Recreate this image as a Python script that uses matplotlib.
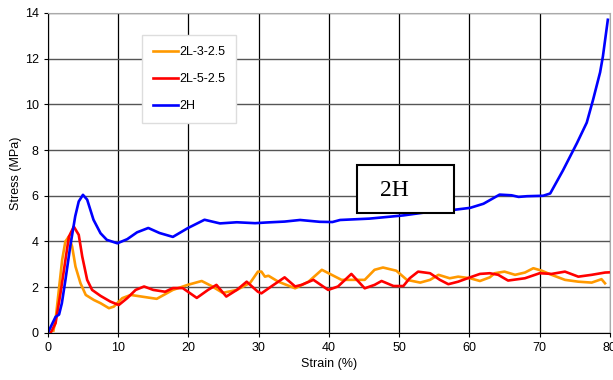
import matplotlib.pyplot as plt
from matplotlib.patches import Rectangle

plt.rcParams["font.family"] = ["Liberation Sans", "DejaVu Sans"]

# strain (%) / stress (MPa)
x_2h = [0, 1.1, 1.6, 2.0, 2.5, 3.2, 3.9, 4.4, 5.0, 5.6, 6.5, 7.5, 8.4, 9.9,
        11.3, 12.7, 14.3, 15.9, 17.8, 19.9, 22.3, 24.5, 26.9, 29.5, 31.1,
        33.7, 35.9, 38.7, 40.5, 41.6, 45.8, 50.6, 54.4, 57.7, 60.1, 62.0,
        64.3, 66.0, 67.0, 68.2, 70.5, 71.5, 73.3, 75.3, 76.7, 77.6, 78.6,
        79.0, 79.7]
y_2h = [0, 0.7, 0.8, 1.3, 2.3, 3.8, 5.1, 5.75, 6.04, 5.83, 4.95, 4.36, 4.07,
        3.92, 4.1, 4.4, 4.59, 4.37, 4.2, 4.58, 4.95, 4.79, 4.84, 4.8, 4.83,
        4.87, 4.94, 4.86, 4.85, 4.94, 5.0, 5.14, 5.3, 5.38, 5.47, 5.65, 6.05,
        6.02, 5.95, 5.98, 6.0, 6.1, 7.1, 8.3, 9.2, 10.2, 11.4, 12.1, 13.7]

x_l3 = [0.8, 1.1, 1.57, 2.04, 2.5, 3.0, 3.46, 3.94, 4.65, 5.4, 6.55, 7.5, 8.7,
        9.4, 10.6, 11.8, 13.1, 15.5, 17.8, 19.9, 21.9, 23.3, 24.9, 26.9, 28.8,
        29.9, 30.4, 30.9, 31.4, 32.8, 35.2, 37.1, 39.0, 40.4, 41.8, 43.7,
        45.1, 46.5, 47.7, 49.6, 51.1, 53.0, 54.4, 55.6, 57.2, 58.4, 60.1,
        61.5, 62.9, 63.6, 65.0, 66.5, 67.9, 69.1, 70.3, 71.7, 73.6, 75.5,
        77.4, 78.8, 79.3]
y_l3 = [0.1, 0.57, 1.88, 3.19, 4.0, 4.22, 3.78, 2.9, 2.17, 1.66, 1.44, 1.3,
        1.08, 1.15, 1.52, 1.66, 1.6, 1.49, 1.88, 2.1, 2.27, 2.05, 1.75, 1.88,
        2.19, 2.68, 2.68, 2.46, 2.5, 2.24, 1.95, 2.24, 2.76, 2.54, 2.32, 2.32,
        2.32, 2.76, 2.86, 2.72, 2.32, 2.2, 2.32, 2.54, 2.39, 2.46, 2.39, 2.27,
        2.43, 2.61, 2.68, 2.54, 2.64, 2.83, 2.72, 2.54, 2.32, 2.24, 2.2, 2.35,
        2.17]

x_l5 = [0.4, 1.1, 1.8, 2.3, 3.0, 3.7, 4.4, 4.9, 5.6, 6.3, 7.5, 8.9, 10.1,
        11.3, 12.5, 13.7, 15.0, 16.7, 17.8, 19.2, 21.2, 22.8, 24.0, 25.4,
        26.9, 28.3, 29.9, 30.4, 31.8, 33.7, 35.2, 36.1, 37.8, 39.9, 41.3,
        43.2, 45.1, 46.5, 47.5, 49.2, 50.6, 51.5, 52.7, 54.4, 55.8, 57.0,
        58.4, 60.1, 61.5, 62.9, 64.1, 65.5, 67.9, 70.0, 71.7, 73.6, 75.5,
        77.4, 79.3, 80.0]
y_l5 = [0, 0.42, 1.73, 2.76, 4.21, 4.65, 4.29, 3.34, 2.32, 1.88, 1.62, 1.37,
        1.22, 1.52, 1.88, 2.03, 1.88, 1.8, 1.96, 1.96, 1.53, 1.88, 2.1, 1.59,
        1.88, 2.24, 1.8, 1.73, 2.03, 2.43, 2.03, 2.1, 2.32, 1.88, 2.03, 2.58,
        1.95, 2.1, 2.27, 2.05, 2.05, 2.39, 2.68, 2.61, 2.32, 2.13, 2.24, 2.43,
        2.58, 2.61, 2.54, 2.29, 2.39, 2.61, 2.58, 2.68, 2.46, 2.54, 2.64,
        2.65]

fig = plt.figure(figsize=(6.13, 3.8), dpi=100)
ax = fig.add_axes([0.078, 0.124, 0.917, 0.842])

ax.plot(x_l3, y_l3, color="#FF9900", lw=1.9, label="2L-3-2.5")
ax.plot(x_l5, y_l5, color="#FF0000", lw=1.9, label="2L-5-2.5")
ax.plot(x_2h, y_2h, color="#0000FF", lw=1.9, label="2H")

ax.set_xlim(0, 80)
ax.set_ylim(0, 14)
ax.set_xticks(range(0, 81, 10))
ax.set_yticks(range(0, 15, 2))
ax.grid(axis="x", color="black", lw=0.9)
ax.grid(axis="y", color="#555555", lw=1.0)
ax.set_axisbelow(True)
ax.tick_params(labelsize=9, length=3)
for s in ["top", "right"]:
    ax.spines[s].set_color("#aaaaaa")
ax.set_xlabel("Strain (%)", fontsize=9, labelpad=3)
ax.set_ylabel("Stress (MPa)", fontsize=9, labelpad=2)

leg = ax.legend(loc="upper left", bbox_to_anchor=(0.167, 0.931), fontsize=9,
                handlelength=2.0, labelspacing=1.2, borderpad=0.9,
                borderaxespad=0, fancybox=False, framealpha=1,
                handletextpad=0.1)
leg.get_frame().set_edgecolor("#dddddd")
leg.get_frame().set_linewidth(1.0)

# annotation box
ax.add_patch(Rectangle((44.0, 5.25), 13.8, 2.1, fc="white", ec="black",
                       lw=1.5, zorder=5))
ax.text(49.3, 6.22, "2H", family="Liberation Serif", fontsize=17,
        ha="center", va="center", zorder=6)

fig.savefig("out.png", dpi=100)
